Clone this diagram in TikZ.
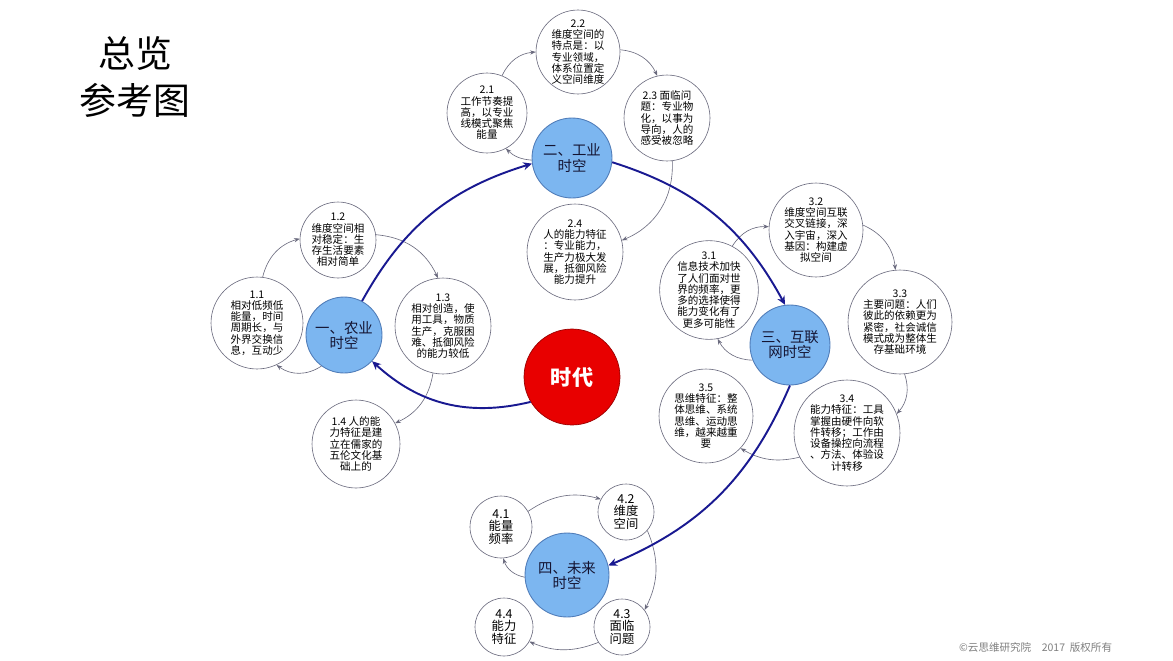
\documentclass[tikz,border=0pt]{standalone}
\usepackage{fontspec}
\setmainfont{Noto Sans CJK SC}
\usetikzlibrary{arrows.meta}
\definecolor{mainfill}{RGB}{124,182,240}
\definecolor{mainborder}{RGB}{80,125,185}
\definecolor{navyline}{RGB}{25,25,145}
\definecolor{redfill}{RGB}{232,0,0}
\definecolor{thinline}{RGB}{105,105,125}
\definecolor{maintext}{RGB}{20,20,50}
\begin{document}
\begin{tikzpicture}[x=0.02cm,y=-0.02cm,
  sub/.style={circle,draw=thinline,line width=0.35pt,fill=white,inner sep=0pt,
    minimum size=#1*0.04cm,align=center,font=\fontsize{6}{6.4}\selectfont},
  subsmall/.style={sub=#1,font=\fontsize{7}{6.9}\selectfont},
  mainnode/.style={circle,draw=mainborder,line width=0.5pt,fill=mainfill,inner sep=0pt,
    minimum size=#1*0.04cm,align=center,text=maintext,font=\fontsize{8.2}{8.6}\selectfont},
  eranode/.style={circle,draw=red!60!black,line width=0.4pt,fill=redfill,inner sep=0pt,
    minimum size=#1*0.04cm,text=white,font=\fontsize{12}{14}\selectfont\bfseries},
  cyc/.style={draw=thinline,line width=0.35pt,-{Stealth[length=3.2pt,width=2.4pt]}},
  flow/.style={draw=navyline,line width=1.1pt,-{Stealth[length=5pt,width=4.5pt]}}
]
\useasboundingbox (0,0) rectangle (1173,660);
\fill[white] (0,0) rectangle (1173,660);

% title and footer
\node[align=center,font=\fontsize{21}{27.2}\selectfont] (title) at (135,77) {总览\\参考图};
\node[anchor=west,text=gray,font=\fontsize{6}{7}\selectfont] (foot) at (953,647) {©云思维研究院\quad 2017\ \ 版权所有};

% era
\node[eranode=48] (era) at (572,377) {时代};

% main nodes
\node[mainnode=38] (n1) at (344,335) {一、农业\\时空};
\node[mainnode=40] (n2) at (572,158) {二、工业\\时空};
\node[mainnode=40] (n3) at (790,345) {三、互联\\网时空};
\node[mainnode=42] (n4) at (567,575) {四、未来\\时空};

% group 1
\node[sub=46] (c11) at (257,323) {1.1\\相对低频低\\能量，时间\\周期长，与\\外界交换信\\息，互动少};
\node[sub=38] (c12) at (338,240) {1.2\\维度空间相\\对稳定：生\\存生活要素\\相对简单};
\node[sub=48] (c13) at (443,326) {1.3\\相对创造，使\\用工具，物质\\生产，克服困\\难、抵御风险\\的能力较低};
\node[sub=44] (c14) at (356,444) {1.4 人的能\\力特征是建\\立在儒家的\\五伦文化基\\础上的};

% group 2
\node[sub=40] (c21) at (487,113) {2.1\\工作节奏提\\高，以专业\\线模式聚焦\\能量};
\node[sub=42] (c22) at (578,52) {2.2\\维度空间的\\特点是：以\\专业领域，\\体系位置定\\义空间维度};
\node[sub=43] (c23) at (667,118) {2.3 面临问\\题：专业物\\化，以事为\\导向，人的\\感受被忽略};
\node[sub=48] (c24) at (575,252) {2.4\\人的能力特征\\：专业能力，\\生产力极大发\\展，抵御风险\\能力提升};

% group 3
\node[sub=48] (c31) at (709,290) {3.1\\信息技术加快\\了人们面对世\\界的频率，更\\多的选择使得\\能力变化有了\\更多可能性};
\node[sub=47] (c32) at (816,230) {3.2\\维度空间互联\\交叉链接，深\\入宇宙，深入\\基因：构建虚\\拟空间};
\node[sub=52] (c33) at (900,322) {3.3\\主要问题：人们\\彼此的依赖更为\\紧密，社会诚信\\模式成为整体生\\存基础环境};
\node[sub=53] (c34) at (847,433) {3.4\\能力特征：工具\\掌握由硬件向软\\件转移；工作由\\设备操控向流程\\、方法、体验设\\计转移};
\node[sub=47] (c35) at (706,416) {3.5\\思维特征：整\\体思维、系统\\思维、运动思\\维，越来越重\\要};

% group 4
\node[subsmall=31] (c41) at (501,527) {4.1\\能量\\频率};
\node[subsmall=28] (c42) at (626,512) {4.2\\维度\\空间};
\node[subsmall=28] (c43) at (622,627) {4.3\\面临\\问题};
\node[subsmall=29] (c44) at (504,627) {4.4\\能力\\特征};

% cycle arcs group 1
\draw[cyc] (n1.234) to[bend left=35] (c11.295);
\draw[cyc] (c11.83) to[bend left=30] (c12.178);
\draw[cyc] (c12.8) to[bend left=30] (c13.96);
\draw[cyc] (c13.258) to[bend left=28] (c14.28);

% cycle arcs group 2
\draw[cyc] (n2.183) to[bend left=20] (c21.298);
\draw[cyc] (c21.68) to[bend left=30] (c22.180);
\draw[cyc] (c22.3) to[bend left=30] (c23.103);
\draw[cyc] (c23.277) to[bend left=35] (c24.14);

% cycle arcs group 3
\draw[cyc] (n3.202) to[bend left=30] (c31.280);
\draw[cyc] (c31.62) to[bend left=30] (c32.176);
\draw[cyc] (c32.6) to[bend left=30] (c33.95);
\draw[cyc] (c33.275) to[bend left=30] (c34.21);
\draw[cyc] (c34.207) to[bend left=22] (c35.317);

% cycle arcs group 4
\draw[cyc] (n4.183) to[bend left=30] (c41.274);
\draw[cyc] (c41.30) to[bend left=25] (c42.153);
\draw[cyc] (c42.319) to[bend left=25] (c43.37);
\draw[cyc] (c43.213) to[bend left=22] (c44.330);

% main flow
\draw[flow] (era.211) to[bend left=28] (n1.317);
\draw[flow] (n1.62) to[bend left=22] (n2.188);
\draw[flow] (n2.354) to[bend left=22] (n3.97);
\draw[flow] (n3.270) to[bend left=22] (n4.13);
\end{tikzpicture}
\end{document}
